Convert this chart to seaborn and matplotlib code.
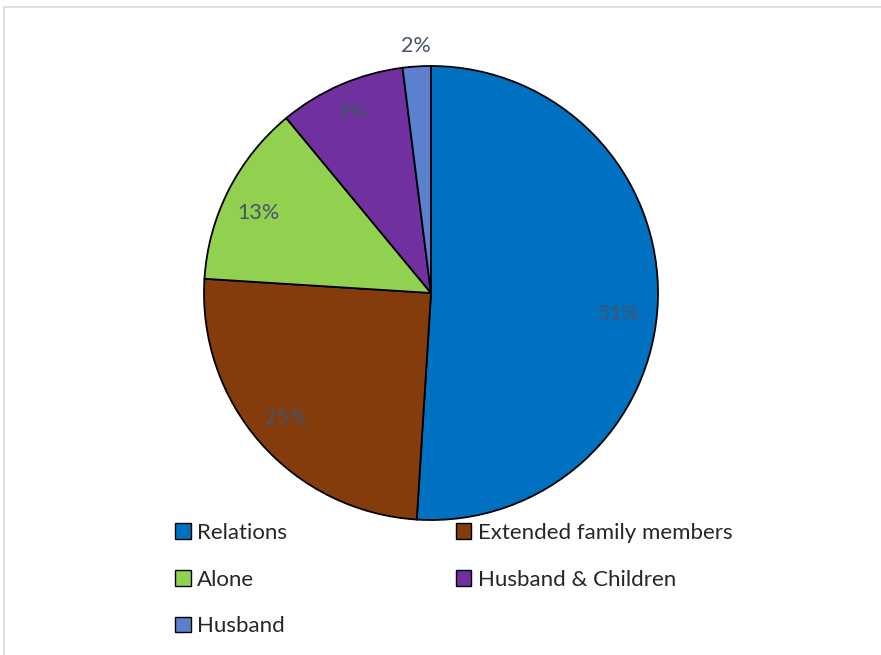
import matplotlib
matplotlib.use("Agg")
import matplotlib.pyplot as plt
import seaborn as sns
import numpy as np
from matplotlib.patches import Patch
from matplotlib.lines import Line2D

categories = ["Relations", "Extended family members", "Alone", "Husband & Children", "Husband"]
values = [51, 25, 13, 9, 2]
colors = ["#0070C0", "#843C0C", "#92D050", "#7030A0", "#5B80CE"]

sns.set_theme(style="white")
plt.rcParams['font.family'] = ['Lato', 'DejaVu Sans']

fig = plt.figure(figsize=(8.81, 6.55), dpi=100)
# outer chart border (top and left)
fig.add_artist(Line2D([4/881, 1], [1-7/655, 1-7/655], color="#D9D9D9", lw=1.2, transform=fig.transFigure))
fig.add_artist(Line2D([4/881, 4/881], [0, 1-7/655], color="#D9D9D9", lw=1.2, transform=fig.transFigure))

ax = fig.add_axes([(431-227)/881, (655-520)/655, 454/881, 454/655])
wedges, texts, autotexts = ax.pie(
    values, colors=colors, startangle=90, counterclock=False,
    autopct="%d%%", pctdistance=0.83,
    wedgeprops=dict(edgecolor="black", linewidth=1.3),
    textprops=dict(color="#44546A", fontsize=15.5),
)
# label nudges (data units, radius = 1)
nudges = [(0.0, -0.066), (-0.022, 0.0), (-0.022, -0.026), (-0.01, 0.035), (0.0, 0.0)]
for t, (dx, dy) in zip(autotexts, nudges):
    x, y = t.get_position()
    t.set_position((x + dx, y + dy))
# small slice label outside
theta1, theta2 = wedges[-1].theta1, wedges[-1].theta2
mid = np.deg2rad((theta1 + theta2) / 2)
autotexts[-1].set_position((1.09 * np.cos(mid), 1.09 * np.sin(mid)))
ax.set_xlim(-1, 1)
ax.set_ylim(-1, 1)
ax.set_aspect("equal")
ax.axis("off")

order = [0, 2, 4, 1, 3]
handles = [Patch(facecolor=colors[i], edgecolor="black", linewidth=1.0) for i in order]
labels = [categories[i] for i in order]
fig.legend(handles, labels, ncol=2, loc="upper left",
           bbox_to_anchor=(175/881, 1-523/655), frameon=False,
           fontsize=16, handlelength=0.7, handleheight=0.7,
           handletextpad=0.3, labelspacing=1.2, columnspacing=7.58,
           borderaxespad=0, borderpad=0)

fig.savefig("out.png", dpi=100)
